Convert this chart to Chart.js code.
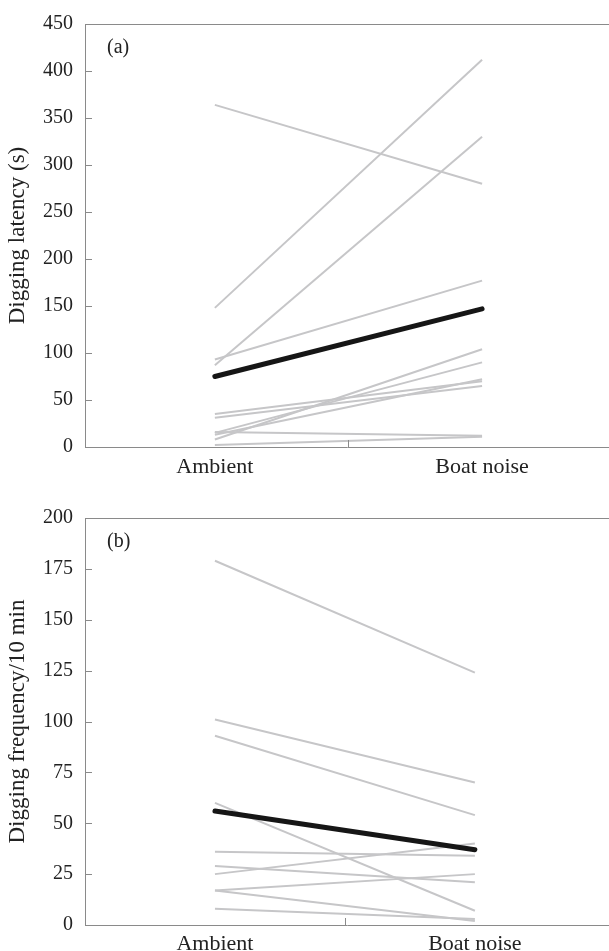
<!DOCTYPE html>
<html>
<head>
<meta charset="utf-8">
<script src="https://cdn.jsdelivr.net/npm/chart.js@4"></script>
<style>
  html, body { margin: 0; padding: 0; background: #fff; overflow: hidden; }
  .panel { position: relative; width: 609px; }
</style>
</head>
<body>
<div class="panel" style="height:480px"><canvas id="graficoLatencia"></canvas></div>
<div class="panel" style="height:471px"><canvas id="graficoFrequencia"></canvas></div>
<script>
// categorias
const categorias = ['Ambient', 'Boat noise'];

// (a) latencia de escavação, um par de valores por peixe
const latenciaAmbient = [364, 148, 87, 93, 35, 31, 15, 8, 13, 16, 2];
const latenciaBoat = [280, 412, 330, 177, 70, 65, 90, 104, 72, 12, 11];
const latenciaMedia = [75, 147];

// (b) frequência de escavação
const freqAmbient = [179, 101, 93, 60, 36, 29, 25, 17, 17, 8];
const freqBoat = [124, 70, 54, 7, 34, 21, 40, 25, 2, 3];
const freqMedia = [56, 37];

const fonte = 'Liberation Serif, Times New Roman, serif';
const corEixo = '#8a8a8a';
const corTexto = '#222';

function montarDatasets(ambient, boat, media) {
    const sets = [{
        data: [{ x: 0, y: media[0] }, { x: 1, y: media[1] }],
        borderColor: '#161616',
        borderWidth: 5,
        borderCapStyle: 'round',
        pointRadius: 0,
        tension: 0
    }];
    ambient.forEach((v, i) => {
        sets.push({
            data: [{ x: 0, y: v }, { x: 1, y: boat[i] }],
            borderColor: '#c6c6c8',
            borderWidth: 2,
            pointRadius: 0,
            tension: 0
        });
    });
    return sets;
}

// ticks para dentro, borda de cima e rótulo do painel
const extras = {
    id: 'extras',
    afterDraw(chart, args, opts) {
        const ctx = chart.ctx;
        const area = chart.chartArea;
        const y = chart.scales.y;
        const x = chart.scales.x;
        ctx.save();
        ctx.strokeStyle = corEixo;
        ctx.lineWidth = 1;
        ctx.beginPath();
        ctx.moveTo(area.left, area.top + 0.5);
        ctx.lineTo(area.right, area.top + 0.5);
        y.ticks.forEach(t => {
            const py = Math.round(y.getPixelForValue(t.value)) + 0.5;
            ctx.moveTo(area.left, py);
            ctx.lineTo(area.left + 7, py);
        });
        const px = Math.round(x.getPixelForValue(0.5)) + 0.5;
        ctx.moveTo(px, area.bottom);
        ctx.lineTo(px, area.bottom - 7);
        ctx.stroke();
        ctx.fillStyle = corTexto;
        ctx.font = '20px ' + fonte;
        ctx.textBaseline = 'middle';
        ctx.fillText(opts.rotulo, area.left + 22, area.top + 24);
        ctx.restore();
    }
};

function criarGrafico(id, datasets, cfg) {
    const ctx = document.getElementById(id).getContext('2d');
    return new Chart(ctx, {
        type: 'line',
        data: { datasets: datasets },
        plugins: [extras],
        options: {
            responsive: true,
            maintainAspectRatio: false,
            animation: false,
            layout: { padding: { top: cfg.topo, right: 0, left: 0, bottom: 0 } },
            plugins: {
                legend: { display: false },
                tooltip: { enabled: false },
                extras: { rotulo: cfg.rotulo }
            },
            scales: {
                x: {
                    type: 'linear',
                    min: cfg.xMin,
                    max: cfg.xMax,
                    grid: { display: false, drawTicks: false },
                    border: { display: true, color: corEixo, width: 1 },
                    afterBuildTicks: axis => {
                        axis.ticks = [{ value: 0 }, { value: 0.5 }, { value: 1 }];
                    },
                    afterFit: axis => { axis.height = cfg.alturaX; },
                    ticks: {
                        autoSkip: false,
                        maxRotation: 0,
                        padding: cfg.padX,
                        color: corTexto,
                        font: { family: fonte, size: 22, lineHeight: 1 },
                        callback: v => v === 0 ? categorias[0] : (v === 1 ? categorias[1] : '')
                    }
                },
                y: {
                    min: 0,
                    max: cfg.yMax,
                    grid: { display: false, drawTicks: false },
                    border: { display: true, color: corEixo, width: 1 },
                    afterFit: axis => { axis.width = 85; },
                    ticks: {
                        stepSize: cfg.passo,
                        padding: 12,
                        color: corTexto,
                        font: { family: fonte, size: 20 }
                    },
                    title: {
                        display: true,
                        text: cfg.titulo,
                        color: corTexto,
                        padding: 4,
                        font: { family: fonte, size: cfg.tamTitulo, lineHeight: 1.2 }
                    }
                }
            }
        }
    });
}

criarGrafico('graficoLatencia', montarDatasets(latenciaAmbient, latenciaBoat, latenciaMedia), {
    titulo: 'Digging latency (s)', rotulo: '(a)', yMax: 450, passo: 50, tamTitulo: 23,
    topo: 18, alturaX: 33, padX: 9, xMin: -0.486, xMax: 1.475
});

criarGrafico('graficoFrequencia', montarDatasets(freqAmbient, freqBoat, freqMedia), {
    titulo: 'Digging frequency/10 min', rotulo: '(b)', yMax: 200, passo: 25, tamTitulo: 23,
    topo: 38, alturaX: 26, padX: 8, xMin: -0.5, xMax: 1.516
});
</script>
</body>
</html>
